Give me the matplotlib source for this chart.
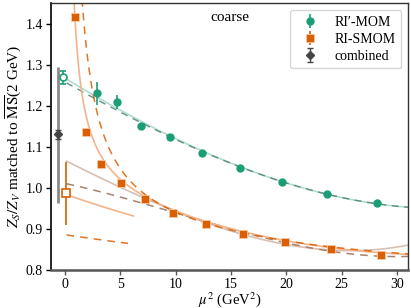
import numpy as np
import matplotlib
matplotlib.use('Agg')
import matplotlib.pyplot as plt

plt.rcParams['font.family'] = ['Liberation Serif', 'DejaVu Serif']
plt.rcParams['mathtext.fontset'] = 'stix'

# data
mom_x = [2.95, 4.75, 6.9, 9.5, 12.4, 15.8, 19.6, 23.7, 28.2]
mom_y = [1.230, 1.209, 1.151, 1.123, 1.085, 1.048, 1.014, 0.985, 0.962]
mom_err = [0.027, 0.018, 0.004, 0.003, 0.003, 0.003, 0.003, 0.003, 0.003]

smom_x = [0.9, 1.9, 3.27, 5.05, 7.2, 9.8, 12.7, 16.1, 19.85, 24.0, 28.5]
smom_y = [1.415, 1.135, 1.058, 1.011, 0.972, 0.940, 0.911, 0.887, 0.867, 0.850, 0.837]

# extrapolated values at mu^2 = 0
mom_extrap = [-0.2, 1.269, 0.016]
smom_extrap = [0.1, 0.987, 0.077]
comb = [-0.65, 1.130, 0.012]          # x, y, stat error
comb_tot = [0.168, 0.165]             # lower, upper total error

# fit curves: a + b x + c x^2 + d x^3 + p / x
fit_mom_solid = [1.267, -0.01624, 0.000133, 2.06e-6, 0.0]
fit_mom_dash = [1.258, -0.01519, 0.0000931, 2.56e-6, 0.0]
fit_smom_solid = [0.985, -0.0095, 0.00014, 0.0, 0.40]
fit_smom_dash = [0.886, -0.0040, 0.00005, 0.0, 0.90]
fit_smom_alt = [1.067, -0.01348, 0.000054, 5.36e-6, 0.0]
fit_smom_altdash = [1.011, -0.005772, -0.000210, 6.807e-6, 0.0]

green = '#1b9e77'
orange = '#d95f02'


def model(x, c, pole=True):
    y = c[0] + c[1] * x + c[2] * x**2 + c[3] * x**3
    if pole:
        y = y + c[4] / x
    return y


fig = plt.figure(figsize=(4.11, 3.08), dpi=100)
ax = fig.add_axes([0.124, 0.1234, 0.8694, 0.8666])

xs = np.linspace(0.0, 31, 300)
xp = np.linspace(0.3, 31, 600)
ax.plot(xs, model(xs, fit_mom_solid, False), color=green, alpha=0.35, lw=1.2)
ax.plot(xs + 0.15, model(xs + 0.15, fit_mom_dash, False), color='#4f7f72', lw=1.0,
        dashes=(5, 4), alpha=0.85)

xa = np.linspace(0.15, 31, 300)
ax.plot(xa, model(xa, fit_smom_alt, False), color='#d8bfb3', lw=1.2)
ax.plot(xa, model(xa, fit_smom_altdash, False), color='#a9816c', lw=1.1, dashes=(5, 4))

ax.plot(xp, model(xp, fit_smom_solid), color='#f2b48a', lw=1.2)
ax.plot(xp, model(xp, fit_smom_dash), color=orange, lw=1.1, dashes=(5, 4), alpha=0.85)

xs1 = np.linspace(0.15, 6.2, 50)
ax.plot(xs1, model(xs1, fit_smom_solid, False), color='#f2b48a', lw=1.2)
xs2 = np.linspace(0.15, 5.7, 50)
ax.plot(xs2, model(xs2, fit_smom_dash, False), color=orange, lw=1.1, dashes=(5, 4), alpha=0.85)

# data points
ax.errorbar(mom_x, mom_y, yerr=mom_err, fmt='o', color=green, ms=5, lw=1.2,
            capsize=0, label='RI\u2032-MOM', zorder=5)
ax.errorbar(smom_x, smom_y, yerr=0.002, fmt='s', color=orange, ms=5.5, lw=1.2,
            mec='#f7c9a6', mew=0.6, capsize=0, label='RI-SMOM', zorder=5)

ax.errorbar([mom_extrap[0]], [mom_extrap[1]], yerr=[mom_extrap[2]], fmt='o', color=green,
            mfc='white', ms=5, mew=1.2, lw=1.2, capsize=2.5, zorder=6)
ax.errorbar([smom_extrap[0]], [smom_extrap[1]], yerr=[smom_extrap[2]], fmt='s', color=orange,
            mfc='white', ms=5.5, mew=1.2, lw=1.2, capsize=0, zorder=6)

ax.errorbar([comb[0]], [comb[1]], yerr=[[comb_tot[0]], [comb_tot[1]]], fmt='none',
            ecolor='#8a8a8a', lw=2.0, capsize=0, zorder=4)
ax.errorbar([comb[0]], [comb[1]], yerr=[comb[2]], fmt='D', color='#444444', ms=4.5,
            lw=1.0, capsize=2.5, label='combined', zorder=6)

ax.text(0.5, 0.945, 'coarse', transform=ax.transAxes, ha='center', va='center', fontsize=11)

ax.set_xlim(-1.25, 31)
ax.set_ylim(0.8, 1.45)
ax.set_xticks([0, 5, 10, 15, 20, 25, 30])
ax.set_yticks([0.8, 0.9, 1.0, 1.1, 1.2, 1.3, 1.4])
ax.tick_params(labelsize=10, direction='out', length=3.5, width=1.0, pad=2.5)
ax.tick_params(axis='x', color='#555555')
ax.set_xlabel(r'$\mu^2$ (GeV$^2$)', fontsize=10.5, labelpad=-1)
ax.set_ylabel(r'$Z_S/Z_V$ matched to $\overline{\rm MS}$(2 GeV)', fontsize=11, labelpad=1)

for s in ['top', 'right']:
    ax.spines[s].set_color('#333333')
    ax.spines[s].set_linewidth(1.0)
ax.spines['left'].set_color('black')
ax.spines['left'].set_linewidth(1.2)
ax.spines['bottom'].set_color('#555555')
ax.spines['bottom'].set_linewidth(1.8)

ax.legend(loc='upper right', fontsize=10, borderaxespad=0.5, handletextpad=0.8,
          labelspacing=0.3)

plt.savefig('out.png', dpi=100)
